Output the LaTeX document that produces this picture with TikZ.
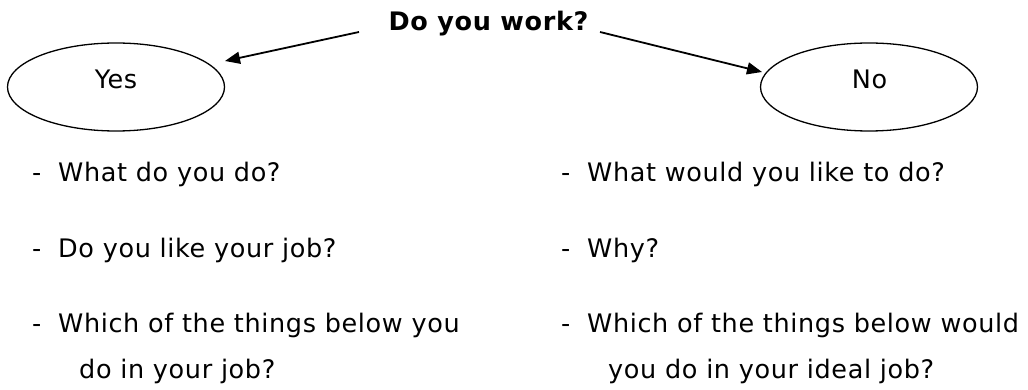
\documentclass[tikz,border=0pt]{standalone}
\usepackage{fontspec}
\setmainfont{DejaVu Sans}[LetterSpace=2.5]
\usetikzlibrary{shapes.geometric,arrows.meta}
\begin{document}
\begin{tikzpicture}[x=1pt,y=-1pt,
  txt/.style={anchor=base west,inner sep=0pt,font=\fontsize{25.5}{30}\selectfont},
  ctxt/.style={anchor=base,inner sep=0pt,font=\fontsize{25.5}{30}\selectfont},
  oval/.style={draw,ellipse,line width=1.3pt,minimum width=217pt,minimum height=88pt,inner sep=0pt},
  arr/.style={line width=1.8pt,-{Triangle[length=15pt,width=12pt]}}]
\useasboundingbox[fill=white] (0,0) rectangle (1028,390);
\node[anchor=base,inner sep=0pt,font=\fontsize{25.5}{30}\selectfont\bfseries] (q) at (488.5,31) {Do you work?};
\node[oval] (yes) at (116,87) {};
\node[oval] (no) at (869,87) {};
\node[ctxt] (yest) at (116,89) {Yes};
\node[ctxt] (not) at (869.5,89) {No};
\coordinate (qL) at (359,32);
\coordinate (qR) at (600,32);
\coordinate (tL) at (225,61);
\coordinate (tR) at (762,72);
\draw[arr] (qL) -- (tL);
\draw[arr] (qR) -- (tR);
% left list
\node[txt] (ld1) at (32,182) {-};
\node[txt] (l1) at (58,182) {What do you do?};
\node[txt] (ld2) at (32,257) {-};
\node[txt] (l2) at (58,257) {Do you like your job?};
\node[txt] (ld3) at (32,332) {-};
\node[txt] (l3) at (58,332) {Which of the things below you};
\node[txt] (l4) at (79,378) {do in your job?};
% right list
\node[txt] (rd1) at (561,182) {-};
\node[txt] (r1) at (587,182) {What would you like to do?};
\node[txt] (rd2) at (561,257) {-};
\node[txt] (r2) at (587,257) {Why?};
\node[txt] (rd3) at (561,332) {-};
\node[txt] (r3) at (587,332) {Which of the things below would};
\node[txt] (r4) at (608,378) {you do in your ideal job?};
\end{tikzpicture}
\end{document}
